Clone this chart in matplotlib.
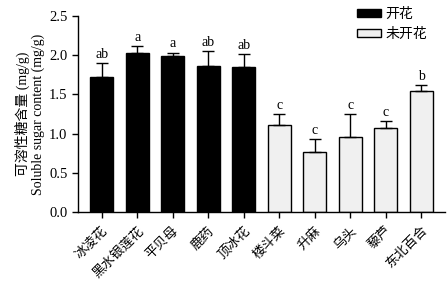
import matplotlib
matplotlib.use("Agg")
import matplotlib.pyplot as plt
from matplotlib.patches import Patch
import numpy as np

plt.rcParams['font.family'] = ['Liberation Serif', 'Noto Sans CJK SC', 'DejaVu Sans']

# data
species = ["冰凌花", "黑水银莲花", "平贝母", "鹿药", "顶冰花",
           "楼斗菜", "升麻", "乌头", "藜芦", "东北百合"]
sugar = [1.72, 2.03, 1.99, 1.86, 1.85, 1.11, 0.77, 0.96, 1.07, 1.55]
sugar_err = [0.18, 0.09, 0.045, 0.20, 0.17, 0.14, 0.16, 0.29, 0.09, 0.065]
letters = ["ab", "a", "a", "ab", "ab", "c", "c", "c", "c", "b"]
flowering = [True] * 5 + [False] * 5

x = np.arange(len(species))
colors = ["black" if f else "#f0f0f0" for f in flowering]

fig = plt.figure(figsize=(4.48, 2.83), dpi=100)
ax = fig.add_axes([0.174, 0.251, 0.819, 0.692])

ax.bar(x, sugar, width=0.65, color=colors, edgecolor="black", linewidth=1.0)
ax.errorbar(x, sugar, yerr=[np.zeros(len(x)), sugar_err], fmt="none",
            ecolor="black", elinewidth=1.0, capsize=4, capthick=1.0)

for xi, v, e, t in zip(x, sugar, sugar_err, letters):
    ax.annotate(t, (xi, v + e), xytext=(0, 1.5), textcoords="offset points",
                ha="center", va="bottom", fontsize=10)

ax.set_xlim(-0.667, 9.667)
ax.set_ylim(0, 2.5)
ax.set_yticks(np.arange(0, 2.51, 0.5))
ax.set_yticklabels([f"{v:.1f}" for v in np.arange(0, 2.51, 0.5)], fontsize=10.5)
ax.set_xticks(x)
ax.set_xticklabels(species, rotation=45, ha="right", rotation_mode="anchor",
                   fontsize=9.5)
ax.tick_params(direction="out", length=4, width=1, colors="black")
ax.tick_params(axis="x", pad=5)
ax.spines["top"].set_visible(False)
ax.spines["right"].set_visible(False)
for s in ("left", "bottom"):
    ax.spines[s].set_linewidth(1.0)

ax.set_ylabel("可溶性糖含量 (mg/g)\nSoluble sugar content (mg/g)", fontsize=10,
              labelpad=3, linespacing=1.15)

handles = [Patch(facecolor="black", edgecolor="black", label="开花"),
           Patch(facecolor="#f0f0f0", edgecolor="black", label="未开花")]
fig.legend(handles=handles, loc="upper left", bbox_to_anchor=(0.77, 1.015),
           frameon=False, fontsize=10, handlelength=1.7, handleheight=0.5,
           labelspacing=0.45, handletextpad=0.3)

fig.savefig("out.png", dpi=100)
